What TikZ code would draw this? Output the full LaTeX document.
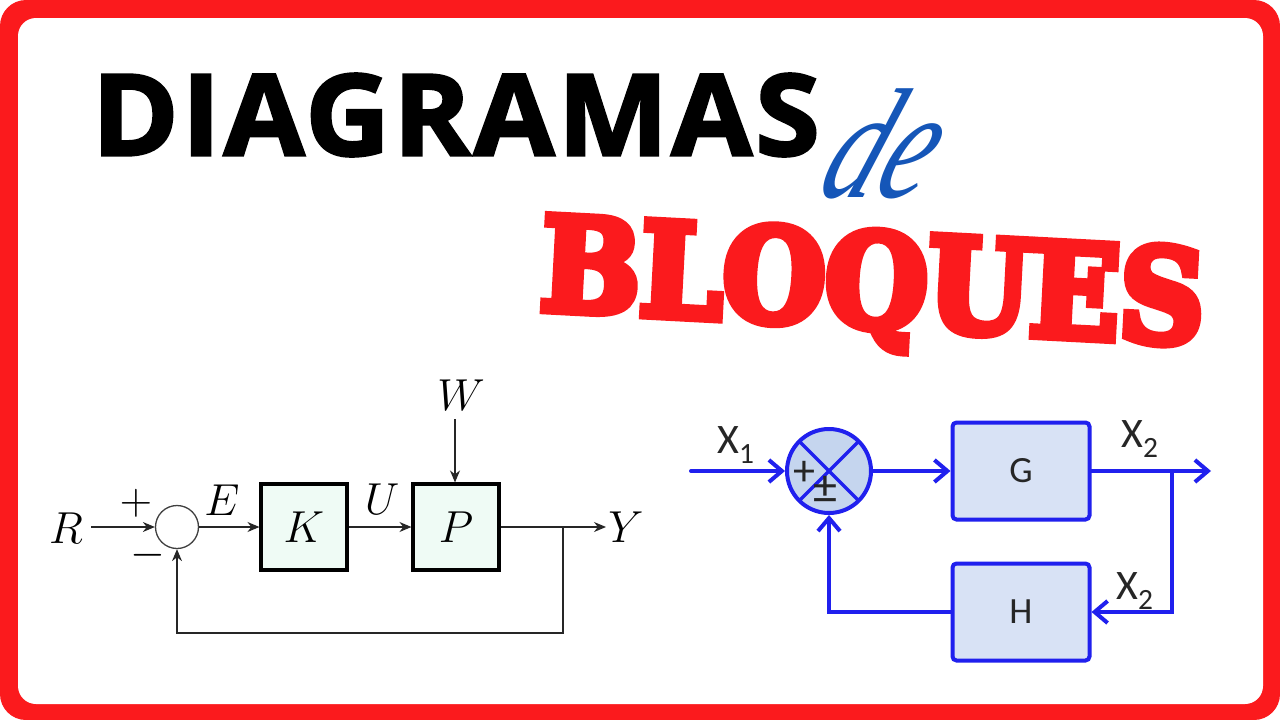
\documentclass[tikz,border=0pt]{standalone}
\usepackage{fontspec}
\usepackage{graphicx}
\usetikzlibrary{arrows.meta}
\newfontfamily\popf[LetterSpace=2.5,Kerning=Off,BoldFeatures={FakeBold=2.2}]{Open Sans}
\newfontfamily\slabf[FakeBold=7]{DejaVu Serif Condensed Bold}
\newfontfamily\ital{Liberation Serif Italic}
\newfontfamily\carl{Carlito}
\definecolor{framered}{HTML}{FB1A1D}
\definecolor{deblue}{HTML}{1556B8}
\definecolor{blockblue}{HTML}{2020EE}
\definecolor{mint}{HTML}{EFFBF5}
\definecolor{bluefill}{HTML}{D8E2F5}
\definecolor{circfill}{HTML}{C5D5EE}
\newcommand{\fs}[1]{\fontsize{#1}{#1}\selectfont}
\newcommand{\mm}[1]{\scalebox{1.8}{\Huge $#1$}}
\tikzset{
  x=1pt,y=-1pt,
  lmlabel/.style={inner sep=0pt},
  blockk/.style={draw=black,line width=3.1pt,fill=mint,minimum width=86pt,minimum height=86pt,inner sep=0pt},
  sumk/.style={circle,draw=black!75,line width=1.3pt,fill=white,minimum size=43pt,inner sep=0pt},
  linek/.style={draw=black!85,line width=1.2pt},
  arrowk/.style={linek,-{Stealth[length=12pt,width=10pt]}},
  blockb/.style={draw=blockblue,line width=4pt,rounded corners=4pt,fill=bluefill,minimum width=137pt,minimum height=97pt,inner sep=0pt,font=\carl\fs{37},text=black!85},
  sumb/.style={circle,draw=blockblue,line width=4pt,fill=circfill,minimum size=84pt,inner sep=0pt},
  crossb/.style={draw=blockblue,line width=3.4pt},
  lineb/.style={draw=blockblue,line width=4pt,line cap=round},
  arrowb/.style={lineb,-{Straight Barb[length=13pt,width=22pt,line width=4pt]}},
  labelb/.style={inner sep=0pt,font=\carl\fs{42},text=black!85},
  signb/.style={inner sep=0pt,text=black!85},
}
\begin{document}
\begin{tikzpicture}
\useasboundingbox (0,0) rectangle (1280,720);
% frame
\fill[white] (0,0) rectangle (1280,720);
\fill[framered,rounded corners=26pt] (0,0) rectangle (1280,720);
\fill[white,rounded corners=18pt] (18,18) rectangle (1263,704);
% titles
\node[inner sep=0pt,anchor=center] (t1) at (456,115) {\resizebox{728pt}{82pt}{\popf\bfseries\fs{113}DIAGRAMAS}};
\node[inner sep=0pt,text=deblue,xslant=0.4] (t2) at (889,144) {\scalebox{1}[1.4]{\ital\fs{112}de}};
\node[inner sep=0pt,text=framered,rotate=-3] (t3) at (873,279) {\resizebox{664pt}{96pt}{\raisebox{0pt}[\height][0pt]{\slabf\fs{100}BLOQUES}}};
% left diagram
\node[lmlabel] (R) at (66,528) {\mm{R}};
\node[sumk] (s1) at (177,527) {};
\node[blockk] (K) at (304,527) {\mm{K}};
\node[blockk] (P) at (456,527) {\mm{P}};
\node[lmlabel] (Y) at (626,527) {\mm{Y}};
\node[lmlabel] (W) at (461,395) {\mm{W}};
\node[lmlabel] (plus1) at (136,503) {\mm{+}};
\node[lmlabel] (minus1) at (148,555) {\mm{-}};
\node[lmlabel] (E) at (222,500) {\mm{E}};
\node[lmlabel] (U) at (382,499) {\mm{U}};
\coordinate (Rs) at (91,527);
\coordinate (Ws) at (455,419);
\coordinate (Ye) at (606,527);
\coordinate (bj) at (563,527);
\coordinate (b1) at (563,633);
\coordinate (b2) at (177,633);
\draw[arrowk] (Rs) -- (s1.west);
\draw[arrowk] (s1.east) -- (K.west);
\draw[arrowk] (K.east) -- (P.west);
\draw[arrowk] (Ws) -- (P.north -| Ws);
\draw[arrowk] (P.east) -- (Ye);
\draw[arrowk] (bj) -- (b1) -- (b2) -- (s1.south);
% right diagram
\node[blockb] (G) at (1021,471) {G};
\node[blockb] (H) at (1021,612) {H};
\node[sumb,path picture={
  \draw[crossb] (path picture bounding box.north west) -- (path picture bounding box.south east);
  \draw[crossb] (path picture bounding box.north east) -- (path picture bounding box.south west);
}] (s2) at (829,471) {};
\node[signb,font=\carl\fs{44}] (p2) at (804,473) {+};
\node[signb,font=\carl\fs{48}] (pm2) at (825,490) {±};
\node[labelb] (x1) at (736,445) {X\textsubscript{1}};
\node[labelb] (x2a) at (1140,439) {X\textsubscript{2}};
\node[labelb] (x2b) at (1135,591) {X\textsubscript{2}};
\coordinate (Xs) at (691,471);
\coordinate (Xe) at (1211,471);
\coordinate (j) at (1172,471);
\coordinate (c1) at (1172,612);
\coordinate (c2) at (829,612);
\draw[arrowb] (Xs) -- (s2.west);
\draw[arrowb] (s2.east) -- (G.west);
\draw[arrowb] (G.east) -- (Xe);
\draw[arrowb] (j) -- (c1) -- (H.east);
\draw[arrowb] (H.west) -- (c2) -- (s2.south);
\end{tikzpicture}
\end{document}
